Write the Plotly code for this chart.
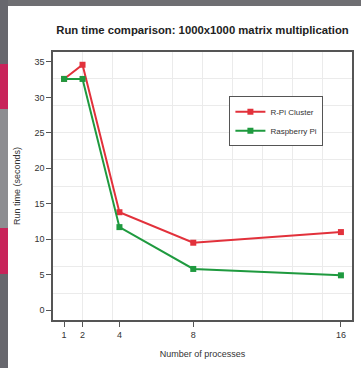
import plotly.graph_objects as go

processes = [1, 2, 4, 8, 16]
cluster_times = [32.6, 34.6, 13.8, 9.5, 11.0]
pi_times = [32.6, 32.6, 11.7, 5.8, 4.9]
x_ticks = [1, 2, 4, 8, 16]
y_ticks = [0, 5, 10, 15, 20, 25, 30, 35]

RED = "#e2313b"
GREEN = "#1f9a3f"
AX = "#555555"
TXT = "#333333"
FONT = "Liberation Sans, Arial, sans-serif"

fig = go.Figure()
fig.add_trace(go.Scatter(x=processes, y=cluster_times, mode="lines+markers", name="R-Pi Cluster",
                         line=dict(color=RED, width=2), marker=dict(symbol="square", size=6, color=RED)))
fig.add_trace(go.Scatter(x=processes, y=pi_times, mode="lines+markers", name="Raspberry Pi",
                         line=dict(color=GREEN, width=2), marker=dict(symbol="square", size=6, color=GREEN)))

# page decoration (magazine background), pixel-sized shapes anchored to plot edges
deco = [
    # (x0, x1, ytop_px, ybottom_px, color)
    (-53, 308, 0, 6, "#6e6e72"),
    (-53, -45, 0, 368, "#67676d"),
    (-53, -45, 64, 109, "#c8245a"),
    (-53, -45, 109, 228, "#8d8d91"),
    (-53, -45, 228, 274, "#c8245a"),
]
for x0, x1, yt, yb, c in deco:
    fig.add_shape(type="rect", xref="paper", yref="paper", xsizemode="pixel", ysizemode="pixel",
                  xanchor=0, yanchor=1, x0=x0, x1=x1, y0=52 - yb, y1=52 - yt,
                  fillcolor=c, line_width=0, layer="below")

fig.update_layout(
    width=361, height=368,
    margin=dict(l=53, r=9, t=52, b=48, autoexpand=False),
    paper_bgcolor="white", plot_bgcolor="white",
    font=dict(family=FONT, size=9, color=TXT),
    title=dict(text="<b>Run time comparison: 1000x1000 matrix multiplication</b>",
               x=0.5, xref="paper", xanchor="center", y=1 - 30 / 368, yanchor="middle",
               font=dict(family=FONT, size=11.3, color="#222222")),
    showlegend=True,
    legend=dict(x=0.59, y=0.835, xanchor="left", yanchor="top", bgcolor="white",
                bordercolor=AX, borderwidth=1, font=dict(size=8, color=TXT),
                tracegroupgap=0, itemwidth=30),
    xaxis=dict(range=[0.4, 16.6], tickmode="array", tickvals=x_ticks, ticktext=[str(v) for v in x_ticks],
               automargin=False,
               showgrid=False, zeroline=False, showline=True, mirror=True, linecolor=AX, linewidth=1.5,
               ticks="outside", ticklen=5, tickcolor=AX,
               minor=dict(tickmode="linear", tick0=0.4, dtick=1.62, showgrid=True, gridcolor="#ebebeb",
                          gridwidth=1, ticks=""),
               title=dict(text="Number of processes", standoff=12, font=dict(size=9))),
    yaxis=dict(range=[-1.4, 36.4], tickmode="array", tickvals=y_ticks,
               automargin=False,
               showgrid=False, zeroline=False, showline=True, mirror=True, linecolor=AX, linewidth=1.5,
               ticks="outside", ticklen=5, tickcolor=AX,
               minor=dict(tickmode="linear", tick0=-1.4, dtick=3.78, showgrid=True, gridcolor="#ebebeb",
                          gridwidth=1, ticks=""),
               title=dict(text="Run time (seconds)", standoff=12, font=dict(size=9))),
)

fig.write_html("out.html", config={"displayModeBar": False},
               post_script="document.body.style.margin='0';")
